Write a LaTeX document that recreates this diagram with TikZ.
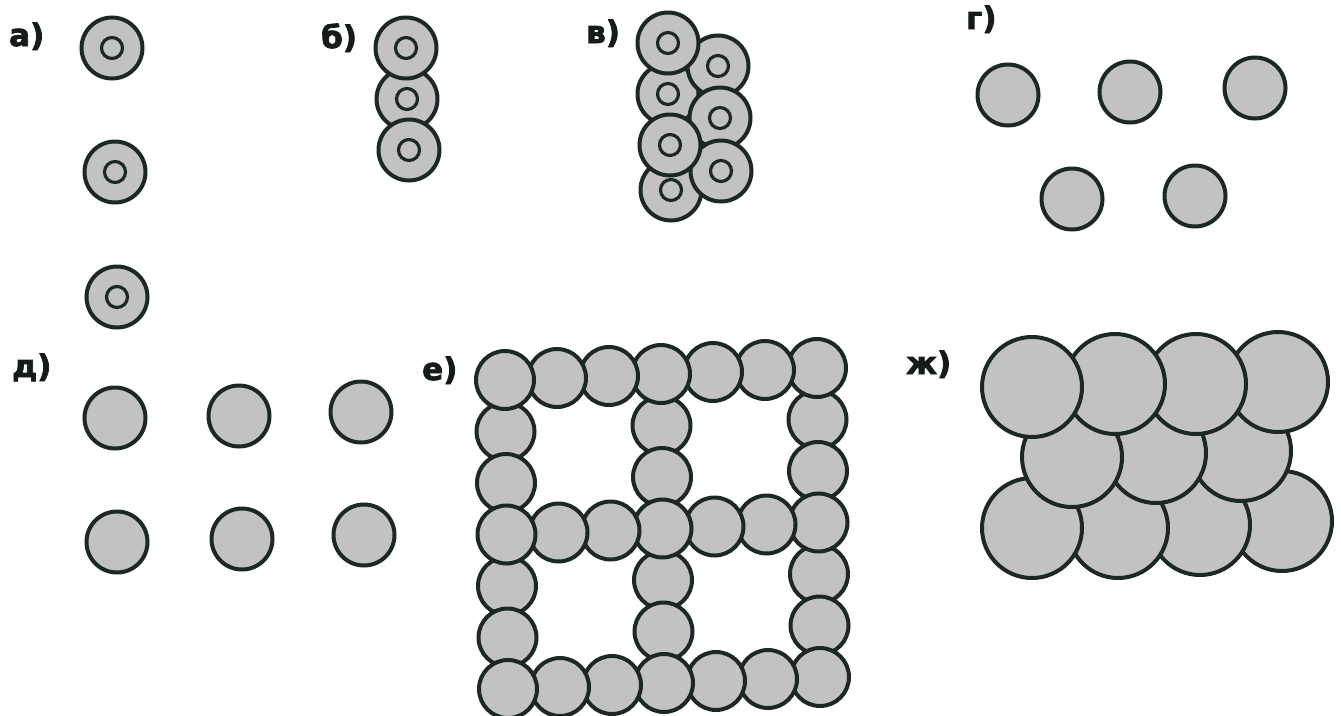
\documentclass[tikz,border=0pt]{standalone}
\usepackage{fontspec}
\newfontfamily\lblfont{DejaVu Sans}[BoldFeatures={FakeBold=2.5}]
\definecolor{fillg}{RGB}{194,194,194}
\definecolor{edgec}{RGB}{30,40,35}
\tikzset{
  atom/.style={circle, draw=edgec, fill=fillg, line width=4pt, minimum size=61pt, inner sep=0pt},
  smallatom/.style={atom, minimum size=58pt},
  bigatom/.style={atom, minimum size=100pt},
  core/.style={circle, draw=edgec, line width=3.2pt, minimum size=21pt, inner sep=0pt},
  lbl/.style={anchor=base west, inner sep=0pt, font=\lblfont\bfseries\fontsize{31}{31}\selectfont, text=edgec!70!black}
}
\begin{document}
\begin{tikzpicture}[x=1pt,y=-1pt]
\useasboundingbox[fill=white] (0,0) rectangle (1341,715);

% labels
\node[lbl] (la) at (9,46) {а)};
\node[lbl] (lb) at (321,48) {б)};
\node[lbl] (lv) at (586,43) {в)};
\node[lbl] (lg) at (966,29) {г)};
\node[lbl] (ld) at (12,377) {д)};
\node[lbl] (le) at (422,380) {е)};
\node[lbl] (lz) at (906,374) {ж)};

% a)
\foreach \n/\x/\y in {1/112/48, 2/115/172, 3/117/297}{
  \node[atom] (a\n) at (\x,\y) {};
  \node[core] (ac\n) at (a\n.center) {};
}

% b)
\node[atom] (b2) at (407,99) {};
\node[core] (bc2) at (b2.center) {};
\foreach \n/\x/\y in {1/406/48, 3/409/150}{
  \node[atom] (b\n) at (\x,\y) {};
  \node[core] (bc\n) at (b\n.center) {};
}

% v)
\foreach \n/\x/\y in {2/668/94, 4/671/190, 5/718/66, 6/720/118, 7/721/171, 1/668/43, 3/670/145}{
  \node[atom] (v\n) at (\x,\y) {};
  \node[core] (vc\n) at (v\n.center) {};
}

% g)
\foreach \n/\x/\y in {1/1008/95, 2/1130/92, 3/1255/88, 4/1072/199, 5/1195/196}{
  \node[atom] (g\n) at (\x,\y) {};
}

% d)
\foreach \n/\x/\y in {1/115/418, 2/239/416, 3/361/412, 4/117/542, 5/242/539, 6/364/535}{
  \node[atom] (d\n) at (\x,\y) {};
}

% e) grid
\foreach \i/\j in {0/1,0/2,0/4,0/5,3/1,3/2,3/4,3/5,6/1,6/2,6/4,6/5,
                   6/0,5/0,4/0,3/0,2/0,1/0,0/0,
                   6/3,5/3,4/3,3/3,2/3,1/3,0/3,
                   6/6,5/6,4/6,3/6,2/6,1/6,0/6}{
  \pgfmathsetmacro{\px}{505+52*\i+0.5*\j}
  \pgfmathsetmacro{\py}{380-2*\i+51.5*\j}
  \node[smallatom] (e\i\j) at (\px,\py) {};
}

% zh) close packing
\foreach \n/\x/\y in {b4/1282/521, b3/1200/525, b2/1118/528, b1/1032/528,
                      m3/1241/451, m2/1156/453, m1/1072/457,
                      t4/1278/382, t3/1196/384, t2/1115/384, t1/1032/387}{
  \node[bigatom] (z\n) at (\x,\y) {};
}
\end{tikzpicture}
\end{document}
